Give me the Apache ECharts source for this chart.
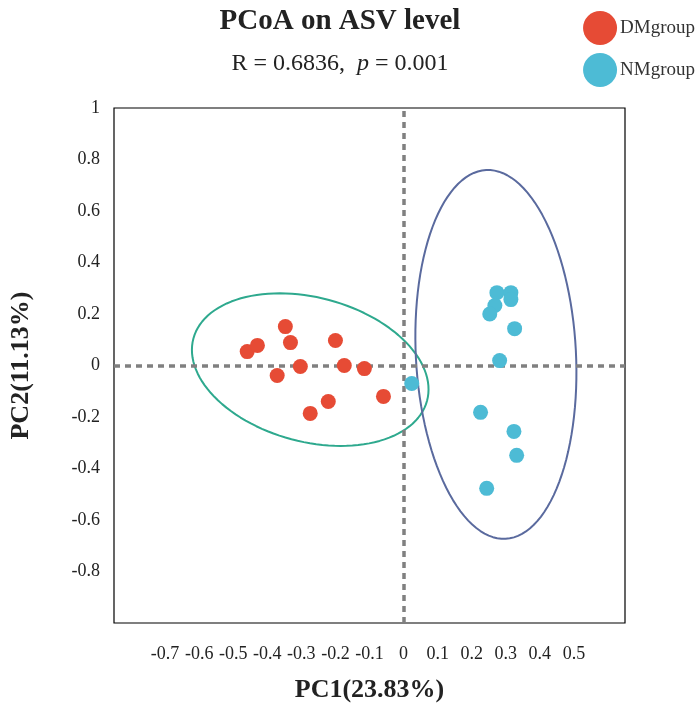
<!DOCTYPE html>
<html>
<head>
<meta charset="utf-8">
<script src="https://cdn.jsdelivr.net/npm/echarts@6/dist/echarts.min.js"></script>
<style>html,body{margin:0;padding:0;background:#fff}#main{width:700px;height:712px}</style>
</head>
<body>
<div id="main"></div>
<script>
var dmPoints = [
  [-0.459, 0.054], [-0.429, 0.078], [-0.347, 0.151], [-0.332, 0.089],
  [-0.371, -0.039], [-0.303, -0.004], [-0.274, -0.186], [-0.200, 0.097],
  [-0.174, 0.000], [-0.221, -0.140], [-0.115, -0.012], [-0.059, -0.120]
]
var nmPoints = [
  [0.024, -0.070], [0.274, 0.283], [0.315, 0.283], [0.315, 0.256],
  [0.268, 0.233], [0.253, 0.200], [0.326, 0.143], [0.282, 0.019],
  [0.226, -0.182], [0.324, -0.256], [0.332, -0.349], [0.244, -0.477]
]
// ellipse params in data units: centre x, centre y, semi axis x, semi axis y, tilt (deg, screen)
var dmEllipse = [-0.274, -0.016, 0.355, 0.28, 15]
var nmEllipse = [0.271, 0.043, 0.235, 0.717, -3]

// scale of one data unit in px, to rotate in screen space
var sx = 340, sy = 258
function ellipse(p) {
  var pts = []
  var th = p[4] * Math.PI / 180
  var a = p[2] * sx, b = p[3] * sy
  for (var i = 0; i <= 120; i++) {
    var t = i / 120 * 2 * Math.PI
    var dx = a * Math.cos(t) * Math.cos(th) - b * Math.sin(t) * Math.sin(th)
    var dy = a * Math.cos(t) * Math.sin(th) + b * Math.sin(t) * Math.cos(th)
    pts.push([p[0] + dx / sx, p[1] - dy / sy])
  }
  return pts
}

var font = 'Liberation Serif'
var myChart = echarts.init(document.getElementById('main'))
myChart.setOption({
  animation: false,
  title: {
    text: 'PCoA on ASV level',
    subtext: '{n|R = 0.6836,  }{i|p}{n| = 0.001}',
    left: 335, textAlign: 'center', top: 2,
    itemGap: 16,
    textStyle: { fontFamily: font, fontSize: 29, fontWeight: 'bold', color: '#222' },
    subtextStyle: {
      rich: {
        n: { fontFamily: font, fontSize: 24, color: '#222' },
        i: { fontFamily: font, fontSize: 24, color: '#222', fontStyle: 'italic' }
      }
    }
  },
  legend: {
    right: 0, top: 6, orient: 'vertical', itemGap: 8,
    itemWidth: 34, itemHeight: 34,
    textStyle: { fontFamily: font, fontSize: 19, color: '#333', padding: [0, 0, 0, -2] },
    data: [{ name: 'DMgroup', icon: 'circle' }, { name: 'NMgroup', icon: 'circle' }]
  },
  grid: { left: 112, right: 75, top: 108, bottom: 89, show: true, borderColor: '#000', borderWidth: 1.2 },
  xAxis: {
    type: 'value', min: -0.85, max: 0.65, interval: 0.05,
    name: 'PC1(23.83%)', nameLocation: 'middle', nameGap: 54,
    nameTextStyle: { fontFamily: font, fontSize: 26, fontWeight: 'bold', color: '#222' },
    axisLine: { show: false }, axisTick: { show: false }, splitLine: { show: false },
    axisLabel: {
      margin: 22, fontFamily: font, fontSize: 18, color: '#222', showMinLabel: true, showMaxLabel: true,
      formatter: function (v) {
        var k = Math.round(v * 20)
        if (k % 2 !== 0 || v < -0.71 || v > 0.51) return ''
        return String(Math.round(v * 10) / 10)
      }
    }
  },
  yAxis: {
    type: 'value', min: -1, max: 1, interval: 0.2,
    name: 'PC2(11.13%)', nameLocation: 'middle', nameGap: 80,
    nameTextStyle: { fontFamily: font, fontSize: 26, fontWeight: 'bold', color: '#222' },
    axisLine: { show: false }, axisTick: { show: false }, splitLine: { show: false },
    axisLabel: {
      margin: 14, fontFamily: font, fontSize: 18, color: '#222',
      formatter: function (v) { return v <= -0.99 ? '' : String(Math.round(v * 10) / 10) }
    }
  },
  series: [
    {
      name: 'DMgroup', type: 'scatter', data: dmPoints, symbolSize: 15,
      itemStyle: { color: '#E64B35', opacity: 1 }, z: 5,
      markLine: {
        silent: true, symbol: 'none', label: { show: false },
        lineStyle: { color: '#808080', type: [6, 5], width: 3.5 },
        data: [{ xAxis: 0 }, { yAxis: 0 }]
      }
    },
    { name: 'NMgroup', type: 'scatter', data: nmPoints, symbolSize: 15, itemStyle: { color: '#4DBBD5', opacity: 1 }, z: 5 },
    { type: 'line', data: ellipse(dmEllipse), showSymbol: false, smooth: false, lineStyle: { color: '#2EA98E', width: 2 }, z: 3 },
    { type: 'line', data: ellipse(nmEllipse), showSymbol: false, smooth: false, lineStyle: { color: '#5A6A9E', width: 2 }, z: 3 }
  ]
})
</script>
</body>
</html>
